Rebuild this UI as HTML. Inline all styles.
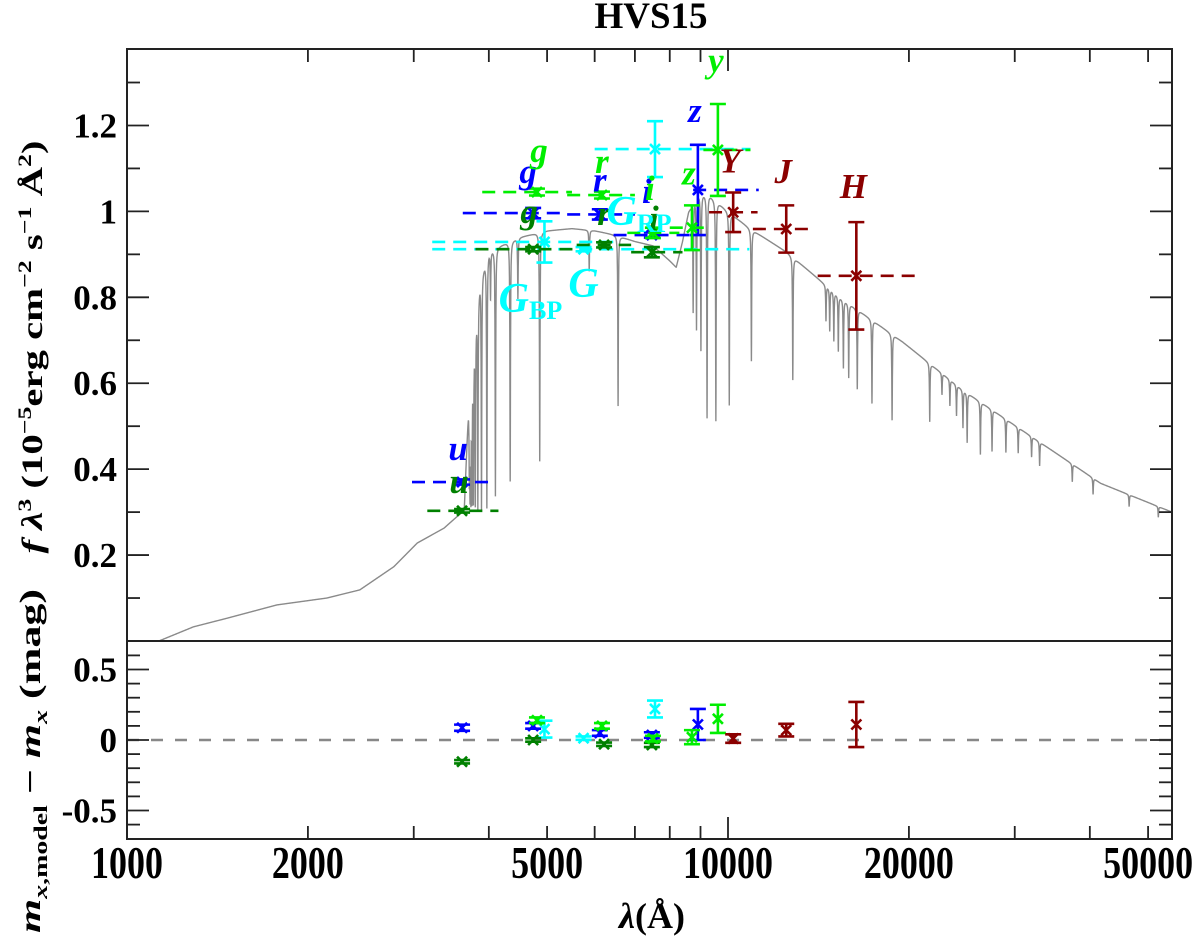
<!DOCTYPE html>
<html>
<head>
<meta charset="utf-8">
<style>
html,body{margin:0;padding:0;background:#fff;}
svg{display:block;}
text{font-family:"Liberation Serif","DejaVu Serif",serif;}
</style>
</head>
<body>
<svg id="chart" width="1200" height="938" viewBox="0 0 1200 938" xmlns="http://www.w3.org/2000/svg">
  <text x="651" y="28" text-anchor="middle" font-size="37" font-weight="bold">HVS15</text>
  <g id="spec"></g>
  <g id="marks"></g>
  <g id="axes"></g>
  <text transform="translate(42,347) rotate(-90)" text-anchor="middle" font-size="30" font-weight="bold" textLength="413" lengthAdjust="spacingAndGlyphs"><tspan font-style="italic">f λ</tspan><tspan font-size="19" dy="-11">3</tspan><tspan dy="11"> (10</tspan><tspan font-size="19" dy="-11">−5</tspan><tspan dy="11">erg cm</tspan><tspan font-size="19" dy="-11">−2</tspan><tspan dy="11"> s</tspan><tspan font-size="19" dy="-11">−1</tspan><tspan dy="11"> Å</tspan><tspan font-size="19" dy="-11">2</tspan><tspan dy="11">)</tspan></text>
  <text transform="translate(40,761) rotate(-90)" text-anchor="middle" font-size="30" font-weight="bold" textLength="344" lengthAdjust="spacingAndGlyphs"><tspan font-style="italic">m</tspan><tspan font-size="19" dy="7"><tspan font-style="italic">x</tspan>,model</tspan><tspan dy="-7"> − </tspan><tspan font-style="italic">m</tspan><tspan font-size="19" dy="7" font-style="italic">x</tspan><tspan dy="-7"> (mag)</tspan></text>
  <text x="652" y="928" text-anchor="middle" font-size="36" font-weight="bold"><tspan font-style="italic">λ</tspan>(Å)</text>
</svg>
<script>
// ---------------- data ----------------
const sdssLabels = ["u","g","r","i","z"];
const sdssLam = [3610,4740,6120,7470,8910];
const sdssFlux = [0.370,0.996,0.993,0.945,1.050];
const sdssFerr = [0.006,0.012,0.012,0.006,0.105];
const sdssRes = [0.087,0.10,0.05,0.035,0.11];
const sdssRerr = [0.022,0.02,0.02,0.02,0.11];
const sdssLo = [2980,3620,5400,6450,8750];
const sdssHi = [4100,5300,7000,8650,11250];

const psLabels = ["g","r","i","z","y"];
const psLam = [4810,6170,7500,8710,9620];
const psFlux = [1.045,1.038,0.950,0.962,1.143];
const psFerr = [0.008,0.008,0.012,0.052,0.107];
const psRes = [0.14,0.10,0.01,0.02,0.15];
const psRerr = [0.02,0.02,0.02,0.05,0.10];
const psLo = [3900,5400,6800,8000,9100];
const psHi = [5500,7000,8300,9300,10900];

const smLabels = ["u","g","r","i"];
const smLam = [3610,4740,6220,7470];
const smFlux = [0.303,0.912,0.922,0.905];
const smFerr = [0.004,0.005,0.006,0.012];
const smRes = [-0.154,0.0,-0.03,-0.035];
const smRerr = [0.012,0.012,0.012,0.015];
const smLo = [3160,3800,5600,6900];
const smHi = [4150,5600,6900,8400];

const gaiaLabels = ["BP","","RP"];
const gaiaLam = [4950,5750,7560];
const gaiaFlux = [0.929,0.912,1.145];
const gaiaFerr = [0.048,0.005,0.065];
const gaiaRes = [0.077,0.013,0.22];
const gaiaRerr = [0.06,0.012,0.06];
const gaiaLo = [3220,3220,6000];
const gaiaHi = [6500,10850,10900];

const irLabels = ["Y","J","H"];
const irLam = [10200,12500,16350];
const irFlux = [0.998,0.959,0.850];
const irFerr = [0.046,0.055,0.125];
const irRes = [0.01,0.07,0.11];
const irRerr = [0.03,0.045,0.16];
const irLo = [9300,11000,14100];
const irHi = [11200,13800,21000];

// model spectrum: continuum control points and absorption lines
const contLam = [1130,1290,1467,1776,2150,2440,2780,3040,3370,3640,3700,3780,3870,4000,4500,5000,5500,6000,6500,7000,7500,8000,8200,8400,8600,8900,9300,10000,10880,12530,15370,19530,24600,33000,41700,54800];
const contFlux = [0.0,0.033,0.053,0.084,0.10,0.119,0.173,0.228,0.263,0.305,0.55,0.72,0.85,0.91,0.94,0.955,0.96,0.955,0.945,0.93,0.92,0.885,0.87,0.93,1.0,1.045,1.04,1.0,0.96,0.905,0.80,0.696,0.584,0.463,0.367,0.300];
const lineLam = [6563,4861,4341,4102,3970,3889,3835,3798,3771,3750,3734,3722,3712,4471,4026,5876,
  8750,8863,9015,9229,9546,10049,10938,12818,
  14555,14765,15000,15260,15560,15880,16410,17360,18751,21660,
  22700,23400,24000,24600,25000,26300,27500,29000,30400,32000,33000,37400,40500,46500,52000];
const lineDepth = [0.42,0.56,0.6,0.63,0.65,0.64,0.6,0.55,0.5,0.45,0.4,0.35,0.3,0.15,0.12,0.1,
  0.25,0.3,0.35,0.5,0.5,0.45,0.32,0.32,
  0.1,0.12,0.14,0.16,0.2,0.22,0.24,0.26,0.28,0.21,
  0.08,0.1,0.12,0.15,0.2,0.22,0.18,0.15,0.12,0.1,0.12,0.1,0.1,0.08,0.08];

const zeroLine = [0];

// ---------------- geometry ----------------
const X0 = 127, X1 = 1172, DEC = 601;
const TOP = 49, MID = 641, BOT = 839;
const YS = (MID - TOP) / 1.378;
const RS = 70.5 / 0.5, R0 = 740;
const xOf = l => X0 + DEC * Math.log10(l / 1000);
const yOf = f => MID - YS * f;
const rOf = r => R0 - RS * r;
const NS = "http://www.w3.org/2000/svg";
function mk(tag, attrs, parent) {
  const e = document.createElementNS(NS, tag);
  for (const k in attrs) e.setAttribute(k, attrs[k]);
  parent.appendChild(e);
  return e;
}
const svg = document.getElementById("chart");
const spec = document.getElementById("spec");
const marks = document.getElementById("marks");
const axes = document.getElementById("axes");

const defs = mk("defs", {}, svg);
const cp1 = mk("clipPath", {id: "cTop"}, defs);
mk("rect", {x: X0, y: TOP, width: X1 - X0, height: MID - TOP}, cp1);

// ---------------- spectrum ----------------
function cont(l) {
  const lg = Math.log10(l);
  if (l <= contLam[0]) return contFlux[0];
  for (let i = 1; i < contLam.length; i++) {
    if (l <= contLam[i]) {
      const a = Math.log10(contLam[i - 1]), b = Math.log10(contLam[i]);
      const t = (lg - a) / (b - a);
      return contFlux[i - 1] + t * (contFlux[i] - contFlux[i - 1]);
    }
  }
  return contFlux[contFlux.length - 1];
}
function model(l) {
  let f = cont(l);
  let absorb = 0;
  for (let i = 0; i < lineLam.length; i++) {
    const w = lineLam[i] * 0.0012;
    const d = (l - lineLam[i]) / w;
    absorb += lineDepth[i] / (1 + d * d);
  }
  return f * Math.max(0.05, 1 - absorb);
}
let lams = [];
for (let i = 0; i <= 3000; i++) lams.push(1130 * Math.pow(54800 / 1130, i / 3000));
for (const lc of lineLam) {
  const w = lc * 0.0012;
  [-3, -1, -0.4, 0, 0.4, 1, 3].forEach(k => lams.push(lc + k * w));
}
lams.sort((a, b) => a - b);
let d = "";
lams.forEach((l, i) => {
  d += (i ? "L" : "M") + xOf(l).toFixed(2) + "," + yOf(model(l)).toFixed(2);
});
const sp = mk("path", {d: d, fill: "none", stroke: "#8a8a8a", "stroke-width": 1.4, "clip-path": "url(#cTop)"}, spec);



zeroLine.forEach(z => {
  const zl = mk("line", {x1: X0, x2: X1, y1: rOf(z), y2: rOf(z), stroke: "#888", "stroke-width": 2.5, "stroke-dasharray": "12 12"}, marks);
  
  
});

// ---------------- photometry ----------------
function cross(g, x, y, col) {
  const s = 5;
  mk("path", {d: `M${x - s},${y - s}L${x + s},${y + s}M${x - s},${y + s}L${x + s},${y - s}`, stroke: col, "stroke-width": 2.6, fill: "none"}, g);
}
function errbar(g, x, y1, y2, col) {
  mk("path", {d: `M${x},${y1}L${x},${y2}M${x - 8},${y1}L${x + 8},${y1}M${x - 8},${y2}L${x + 8},${y2}`, stroke: col, "stroke-width": 2.6, fill: "none"}, g);
}
function drawSurvey(name, col, labels, lam, flux, ferr, res, rerr, lo, hi) {
  const g = mk("g", {}, marks);
  
  
  lam.forEach((l, i) => {
    const x = xOf(l);
    const band = mk("line", {x1: xOf(lo[i]), x2: xOf(hi[i]), y1: yOf(flux[i]), y2: yOf(flux[i]), stroke: col, "stroke-width": 2.6, "stroke-dasharray": "13 8"}, g);
    
    
    errbar(g, x, yOf(flux[i] + ferr[i]), yOf(flux[i] - ferr[i]), col);
    cross(g, x, yOf(flux[i]), col);
    errbar(g, x, rOf(res[i] + rerr[i]), rOf(res[i] - rerr[i]), col);
    cross(g, x, rOf(res[i]), col);
  });
}
drawSurvey("gaia", "#00ffff", gaiaLabels, gaiaLam, gaiaFlux, gaiaFerr, gaiaRes, gaiaRerr, gaiaLo, gaiaHi);
drawSurvey("skymapper", "#008000", smLabels, smLam, smFlux, smFerr, smRes, smRerr, smLo, smHi);
drawSurvey("sdss", "#0000ff", sdssLabels, sdssLam, sdssFlux, sdssFerr, sdssRes, sdssRerr, sdssLo, sdssHi);
drawSurvey("panstarrs", "#00ee00", psLabels, psLam, psFlux, psFerr, psRes, psRerr, psLo, psHi);
drawSurvey("ir", "#8b0000", irLabels, irLam, irFlux, irFerr, irRes, irRerr, irLo, irHi);

// ---------------- filter labels ----------------
function label(name, txt, col, lam, flux, dx, dy, size) {
  const t = mk("text", {x: xOf(lam) + dx, y: yOf(flux) + dy, fill: col, "font-size": size, "font-weight": "bold", "font-style": "italic", "text-anchor": "middle"}, marks);
  t.textContent = txt;
  
  
  return t;
}
const sdssOff = [[-4,-22],[-5,-30],[0,-23],[-5,-32],[-3,-68]];
const psOff = [[2,-30],[0,-22],[-3,-33],[-3,-43],[-2,-78]];
const smOff = [[-3,-18],[-4,-26],[0,-20],[2,-22]];
const irOff = [[-3,-40],[-3,-46],[-3,-78]];
sdssLabels.forEach((s, i) => label('sdss-label-' + s, s, "#0000ff", sdssLam[i], sdssFlux[i], sdssOff[i][0], sdssOff[i][1], 35));
psLabels.forEach((s, i) => label('panstarrs-label-' + s, s, "#00ee00", psLam[i], psFlux[i], psOff[i][0], psOff[i][1], 35));
smLabels.forEach((s, i) => label('skymapper-label-' + s, s, "#008000", smLam[i], smFlux[i], smOff[i][0], smOff[i][1], 35));
irLabels.forEach((s, i) => label('ir-label-' + s, s, "#8b0000", irLam[i], irFlux[i], irOff[i][0], irOff[i][1], 35));
const gaiaOff = [[-14,70],[0,48],[-16,76]];
gaiaLabels.forEach((s, i) => {
  const t = label('gaia-label-' + (s || 'G'), "G", "#00ffff", gaiaLam[i], gaiaFlux[i], gaiaOff[i][0], gaiaOff[i][1], 42);
  if (s) {
    const ts = document.createElementNS(NS, "tspan");
    ts.setAttribute("font-size", "26");
    ts.setAttribute("font-style", "normal");
    ts.setAttribute("dy", "7");
    ts.textContent = s;
    t.appendChild(ts);
  }
});

// ---------------- axes ----------------
const xMajor = [1000, 2000, 5000, 10000, 20000, 50000];
const xMinor = [2000,3000,4000,5000,6000,7000,8000,9000,20000,30000,40000,50000];
const yTopTicks = [0.2, 0.4, 0.6, 0.8, 1.0, 1.2];
const yTopLabels = ["0.2", "0.4", "0.6", "0.8", "1", "1.2"];
const yBotTicks = [0.5, 0, -0.5];
const yBotLabels = ["0.5", "0", "-0.5"];
const AX = "#222";
function ln(x1, y1, x2, y2, w) { return mk("line", {x1, y1, x2, y2, stroke: AX, "stroke-width": w || 1.8}, axes); }
const fr1 = mk("rect", {x: X0, y: TOP, width: X1 - X0, height: MID - TOP, fill: "none", stroke: AX, "stroke-width": 2}, axes);


const fr2 = mk("rect", {x: X0, y: MID, width: X1 - X0, height: BOT - MID, fill: "none", stroke: AX, "stroke-width": 2}, axes);


xMinor.forEach(l => { const x = xOf(l); ln(x, TOP, x, TOP + 13); ln(x, BOT, x, BOT - 13); });
[10000].forEach(l => { const x = xOf(l); ln(x, TOP, x, TOP + 22); ln(x, BOT, x, BOT - 22); });
xMajor.forEach(l => {
  const t = mk("text", {x: 0, y: 0, "font-size": 36, "font-weight": "bold", "text-anchor": "middle", transform: `translate(${xOf(l)},878) scale(1,1.25)`}, axes);
  t.textContent = l;
  
  
});
for (let v = 0.1; v < 1.37; v += 0.1) {
  const y = yOf(v);
  const major = Math.abs(Math.round(v * 10) % 2) === 0;
  const L = major ? 22 : 13;
  ln(X0, y, X0 + L, y); ln(X1, y, X1 - L, y);
}
yTopTicks.forEach((v, i) => {
  const t = mk("text", {x: 117, y: yOf(v) + 12, "font-size": 35, "font-weight": "bold", "text-anchor": "end"}, axes);
  t.textContent = yTopLabels[i];
  
  
});
for (let k = -6; k <= 6; k++) {
  const y = rOf(k / 10);
  const L = (k % 5 === 0) ? 22 : 13;
  ln(X0, y, X0 + L, y); ln(X1, y, X1 - L, y);
}
yBotTicks.forEach((v, i) => {
  const t = mk("text", {x: 117, y: rOf(v) + 12, "font-size": 35, "font-weight": "bold", "text-anchor": "end"}, axes);
  t.textContent = yBotLabels[i];
  
  
});
</script>
</body>
</html>
